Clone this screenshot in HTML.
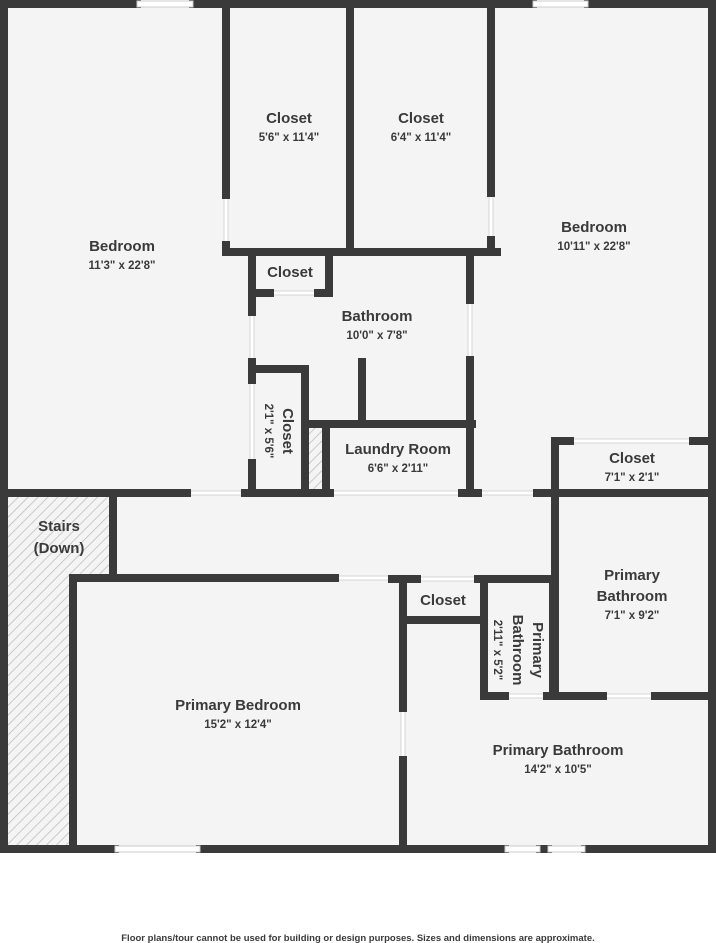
<!DOCTYPE html>
<html><head><meta charset="utf-8"><style>
html,body{margin:0;padding:0;background:#fff}
svg{display:block}
text{font-family:"Liberation Sans",sans-serif;fill:#3a3a3a;text-anchor:middle}
.t{font-size:15px;font-weight:bold}
.d{font-size:11.5px;font-weight:bold}
</style></head><body>
<svg width="716" height="943" viewBox="0 0 716 943" xmlns="http://www.w3.org/2000/svg">
<defs>
<pattern id="h" width="7" height="7" patternUnits="userSpaceOnUse" patternTransform="rotate(45)">
<rect width="7" height="7" fill="#f4f4f4"/><line x1="0" y1="0" x2="0" y2="7" stroke="#bbb" stroke-width="1.5"/>
</pattern>
</defs>
<rect x="4" y="4" width="708" height="845" fill="#f4f4f4"/>
<rect x="8" y="497" width="105" height="81" fill="url(#h)"/>
<rect x="8" y="578" width="62" height="268" fill="url(#h)"/>
<rect x="308" y="427" width="15" height="64" fill="url(#h)"/>
<!-- door strips -->
<g fill="#fff" stroke="#d6d6d6" stroke-width="1">
<rect x="224" y="195" width="4" height="50"/>
<rect x="489" y="193" width="4" height="47"/>
<rect x="270" y="291" width="48" height="4"/>
<rect x="250" y="312" width="4" height="50"/>
<rect x="250" y="380" width="4" height="83"/>
<rect x="468" y="300" width="4" height="60"/>
<rect x="187" y="491" width="58" height="4"/>
<rect x="330" y="491" width="132" height="4"/>
<rect x="478" y="491" width="59" height="4"/>
<rect x="570" y="439" width="123" height="4"/>
<rect x="335" y="576" width="57" height="4"/>
<rect x="417" y="577" width="61" height="4"/>
<rect x="401" y="708" width="4" height="52"/>
<rect x="505" y="694" width="42" height="4"/>
<rect x="603" y="694" width="52" height="4"/>
</g>
<g stroke="#3a3a3a" stroke-width="8" fill="none" stroke-linecap="square">
<path d="M4 4 H137 M193 4 H533 M588 4 H712 V849 H585 M548 849 H540 M505 849 H200 M115 849 H4 V4"/>
<path d="M226 4 V195 M226 245 V252 H497 M350 4 V250 M491 4 V193 M491 240 V252"/>
<path d="M252 252 V312 M252 362 V380 M252 463 V493 M252 293 H270 M318 293 H329 V252"/>
<path d="M252 369 H305 V493"/>
<path d="M305 424 H472 M326 424 V493 M362 362 V424"/>
<path d="M470 252 V300 M470 360 V493"/>
<path d="M4 493 H187 M245 493 H330 M462 493 H478 M537 493 H712"/>
<path d="M555 493 V692 M555 441 V493 M555 441 H570 M693 441 H712"/>
<path d="M484 696 H505 M547 696 H603 M655 696 H712"/>
<path d="M553 579 V696 M484 579 V696 M478 579 H553 M393 579 H417 M403 579 V708 M403 760 V849 M403 620 H484"/>
<path d="M113 497 V575 M73 578 V849 M73 578 H335 M392 579 H403"/>
</g>
<g fill="#fff" stroke="#ccc" stroke-width="1">
<rect x="137" y="1" width="56" height="6"/><rect x="533" y="1" width="55" height="6"/>
<rect x="115" y="846" width="85" height="6"/><rect x="505" y="846" width="35" height="6"/><rect x="548" y="846" width="37" height="6"/>
</g>
<text class="t" x="122" y="251">Bedroom</text><text class="d" x="122" y="269">11'3" x 22'8"</text>
<text class="t" x="289" y="123">Closet</text><text class="d" x="289" y="141">5'6" x 11'4"</text>
<text class="t" x="421" y="123">Closet</text><text class="d" x="421" y="141">6'4" x 11'4"</text>
<text class="t" x="594" y="232">Bedroom</text><text class="d" x="594" y="250">10'11" x 22'8"</text>
<text class="t" x="290" y="277">Closet</text>
<text class="t" x="377" y="321">Bathroom</text><text class="d" x="377" y="339">10'0" x 7'8"</text>
<text class="t" transform="translate(283,431) rotate(90)">Closet</text>
<text class="d" transform="translate(265,431) rotate(90)">2'1" x 5'6"</text>
<text class="t" x="398" y="454">Laundry Room</text><text class="d" x="398" y="472">6'6" x 2'11"</text>
<text class="t" x="632" y="463">Closet</text><text class="d" x="632" y="481">7'1" x 2'1"</text>
<text class="t" x="59" y="531">Stairs</text><text class="t" x="59" y="553">(Down)</text>
<text class="t" x="632" y="580">Primary</text><text class="t" x="632" y="601">Bathroom</text><text class="d" x="632" y="619">7'1" x 9'2"</text>
<text class="t" x="443" y="605">Closet</text>
<text class="t" transform="translate(533,650) rotate(90)">Primary</text>
<text class="t" transform="translate(513,650) rotate(90)">Bathroom</text>
<text class="d" transform="translate(494,650) rotate(90)">2'11" x 5'2"</text>
<text class="t" x="238" y="710">Primary Bedroom</text><text class="d" x="238" y="728">15'2" x 12'4"</text>
<text class="t" x="558" y="755">Primary Bathroom</text><text class="d" x="558" y="773">14'2" x 10'5"</text>
<text x="358" y="941" style="font-size:9.5px;font-weight:bold">Floor plans/tour cannot be used for building or design purposes. Sizes and dimensions are approximate.</text>
</svg>
</body></html>
